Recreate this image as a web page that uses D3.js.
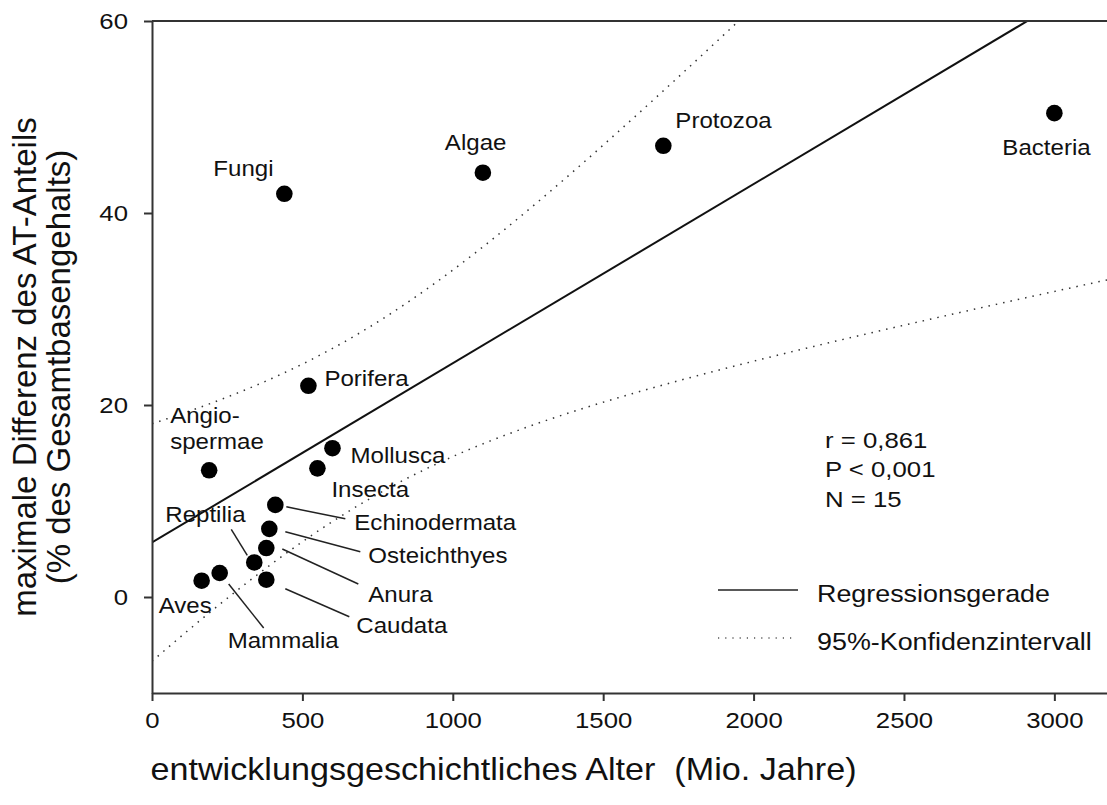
<!DOCTYPE html>
<html>
<head>
<meta charset="utf-8">
<script src="https://cdn.jsdelivr.net/npm/d3@7"></script>
<style>
  body { margin: 0; background: #fff; }
  text { font-family: "Liberation Sans", Arial, Helvetica, sans-serif; fill: #111; }
</style>
</head>
<body>
<div id="chart"></div>
<script>
// data
const taxa = ["Fungi", "Algae", "Protozoa", "Bacteria", "Porifera", "Angiospermae", "Mollusca",
  "Insecta", "Echinodermata", "Osteichthyes", "Anura", "Reptilia", "Caudata", "Mammalia", "Aves"];
const ages = [440, 1100, 1700, 3000, 520, 190, 600, 550, 410, 390, 380, 340, 380, 225, 165];
const atDiff = [42.0, 44.2, 47.0, 50.4, 22.0, 13.2, 15.5, 13.4, 9.6, 7.1, 5.1, 3.6, 1.8, 2.5, 1.7];

const xTicks = [0, 500, 1000, 1500, 2000, 2500, 3000];
const yTicks = [0, 20, 40, 60];
const statsLines = ["r = 0,861", "P < 0,001", "N = 15"];
const legendItems = ["Regressionsgerade", "95%-Konfidenzintervall"];

// label placement relative to each dot (px): text start, baseline, optional leader line
const labelPos = {
  Fungi:         { dx: -71, dy: -18 },
  Algae:         { dx: -38, dy: -23 },
  Protozoa:      { dx: 12,  dy: -18 },
  Bacteria:      { dx: -52, dy: 42 },
  Porifera:      { dx: 16,  dy: 0 },
  Angiospermae:  { dx: -39, dy: -47, lines: ["Angio-", "spermae"] },
  Mollusca:      { dx: 18,  dy: 15 },
  Insecta:       { dx: 14,  dy: 29 },
  Echinodermata: { dx: 79,  dy: 25, lead: [11, 2, 70, 14] },
  Osteichthyes:  { dx: 99,  dy: 34, lead: [16, 3, 91, 23] },
  Anura:         { dx: 102, dy: 54, lead: [16, 1, 92, 36] },
  Reptilia:      { dx: -89, dy: -40, lead: [-23, -33, -7, -7] },
  Caudata:       { dx: 90,  dy: 53, lead: [19, 9, 83, 37] },
  Mammalia:      { dx: 8,   dy: 75, lead: [9, 11, 44, 55] },
  Aves:          { dx: -43, dy: 32 }
};

const W = 1107, H = 805;
const margin = { top: 21, right: 0, bottom: 112, left: 152 };
const width = W - margin.left - margin.right;
const height = H - margin.top - margin.bottom;
const stretch = 1.12; // the printed lettering is a bit wider than Liberation Sans

const svg = d3.select("#chart").append("svg")
  .attr("width", W)
  .attr("height", H);

const g = svg.append("g")
  .attr("transform", `translate(${margin.left},${margin.top})`);

const x = d3.scaleLinear().domain([0, 3175]).range([0, width]);
const y = d3.scaleLinear().domain([-10, 60]).range([height, 0]);

const points = taxa.map((name, i) => ({ name, x: ages[i], y: atDiff[i] }));

// least squares fit and confidence band
const n = points.length;
const mx = d3.mean(ages), my = d3.mean(atDiff);
const sxx = d3.sum(ages, v => (v - mx) ** 2);
const sxy = d3.sum(points, p => (p.x - mx) * (p.y - my));
const slope = sxy / sxx;
const intercept = my - slope * mx;
const sse = d3.sum(points, p => (p.y - intercept - slope * p.x) ** 2);
const se = Math.sqrt(sse / (n - 2));
const bandCrit = 2.94; // band multiplier, matched to the printed curves
const fit = v => intercept + slope * v;
const half = v => bandCrit * se * Math.sqrt(1 / n + (v - mx) ** 2 / sxx);

const xs = d3.range(0, 3175 + 1, 25);

g.append("clipPath").attr("id", "plotclip")
  .append("rect").attr("width", width).attr("height", height);

const plot = g.append("g").attr("clip-path", "url(#plotclip)");

const line = d3.line().x(d => x(d[0])).y(d => y(d[1]));

plot.append("path")
  .attr("d", line([[0, fit(0)], [3175, fit(3175)]]))
  .attr("fill", "none")
  .attr("stroke", "#111")
  .attr("stroke-width", 2);

[1, -1].forEach(sign => {
  plot.append("path")
    .attr("d", line(xs.map(v => [v, fit(v) + sign * half(v)])))
    .attr("fill", "none")
    .attr("stroke", "#333")
    .attr("stroke-width", 1.5)
    .attr("stroke-dasharray", "1.5,6");
});

// axes
const xAxis = g.append("g")
  .attr("transform", `translate(0,${height})`)
  .call(d3.axisBottom(x).tickValues(xTicks).tickFormat(d3.format("d"))
    .tickSize(8).tickSizeOuter(0).tickPadding(11));

const yAxis = g.append("g")
  .call(d3.axisLeft(y).tickValues(yTicks).tickFormat(d3.format("d"))
    .tickSize(8).tickSizeOuter(0).tickPadding(16));

[xAxis, yAxis].forEach(a => {
  a.select(".domain").attr("stroke", "#333").attr("stroke-width", 2);
  a.selectAll(".tick line").attr("stroke", "#333").attr("stroke-width", 2);
  a.selectAll(".tick text")
    .attr("font-family", "'Liberation Sans', Arial, sans-serif")
    .attr("font-size", 23)
    .attr("fill", "#111")
    .attr("x", function() { return (+d3.select(this).attr("x") || 0) / stretch; })
    .attr("transform", `scale(${stretch},1)`);
});

// top frame line
g.append("line")
  .attr("x1", 0).attr("x2", width)
  .attr("y1", 0).attr("y2", 0)
  .attr("stroke", "#333").attr("stroke-width", 2);

// dots
g.selectAll(".dot")
  .data(points)
  .enter().append("circle")
  .attr("class", "dot")
  .attr("cx", d => x(d.x))
  .attr("cy", d => y(d.y))
  .attr("r", 8.3)
  .attr("fill", "#000");

// leader lines
g.selectAll(".lead")
  .data(points.filter(d => labelPos[d.name].lead))
  .enter().append("line")
  .attr("class", "lead")
  .attr("x1", d => x(d.x) + labelPos[d.name].lead[0])
  .attr("y1", d => y(d.y) + labelPos[d.name].lead[1])
  .attr("x2", d => x(d.x) + labelPos[d.name].lead[2])
  .attr("y2", d => y(d.y) + labelPos[d.name].lead[3])
  .attr("stroke", "#222")
  .attr("stroke-width", 1.5);

// point labels
const labels = g.selectAll(".label")
  .data(points)
  .enter().append("text")
  .attr("class", "label")
  .attr("font-size", 21.5)
  .attr("transform", d => `translate(${x(d.x) + labelPos[d.name].dx},${y(d.y) + labelPos[d.name].dy}) scale(${stretch},1)`);

labels.selectAll("tspan")
  .data(d => labelPos[d.name].lines || [d.name])
  .enter().append("tspan")
  .attr("x", 0)
  .attr("y", (d, i) => i * 26)
  .text(d => d);

// stats
g.append("text")
  .attr("font-size", 23)
  .attr("transform", `translate(${825 - margin.left},${448 - margin.top}) scale(${stretch},1)`)
  .selectAll("tspan")
  .data(statsLines)
  .enter().append("tspan")
  .attr("x", 0)
  .attr("y", (d, i) => i * 29.5)
  .text(d => d);

// legend
const legend = g.append("g")
  .attr("transform", `translate(${718 - margin.left},${590 - margin.top})`);

legendItems.forEach((label, i) => {
  const row = legend.append("g").attr("transform", `translate(0,${i * 48})`);
  row.append("line")
    .attr("x1", 0).attr("x2", i === 0 ? 80 : 74)
    .attr("stroke", i === 0 ? "#222" : "#555")
    .attr("stroke-width", i === 0 ? 1.5 : 1.3)
    .attr("stroke-dasharray", i === 0 ? null : "1.2,6");
  row.append("text")
    .attr("transform", `translate(99,12) scale(${stretch},1)`)
    .attr("font-size", 24)
    .text(label);
});

// axis titles
svg.append("text")
  .attr("transform", `translate(${margin.left + 351.5},780) scale(${stretch},1)`)
  .attr("text-anchor", "middle")
  .attr("font-size", 30.5)
  .style("white-space", "pre")
  .text("entwicklungsgeschichtliches Alter  (Mio. Jahre)");

const yTitle = svg.append("text")
  .attr("transform", "translate(0,367) rotate(-90)")
  .attr("text-anchor", "middle")
  .attr("font-size", 33);

yTitle.append("tspan").attr("x", 0).attr("y", 36).text("maximale Differenz des AT-Anteils");
yTitle.append("tspan").attr("x", 0).attr("y", 70).text("(% des Gesamtbasengehalts)");
</script>
</body>
</html>
